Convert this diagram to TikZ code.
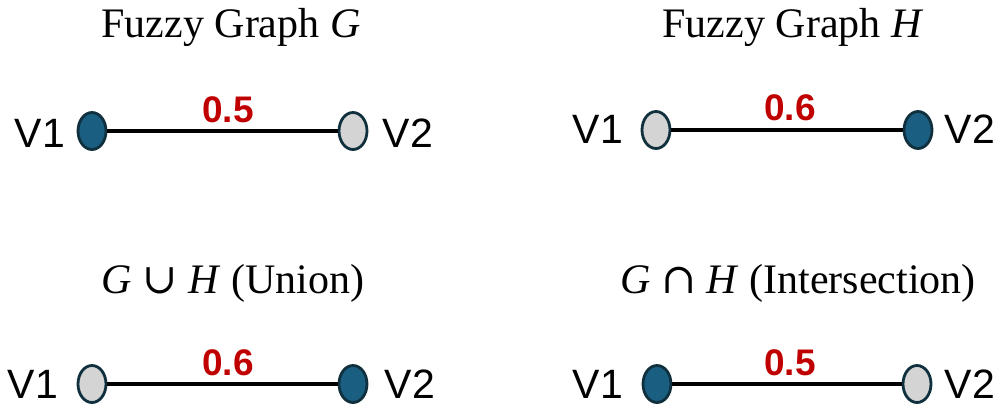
\documentclass[tikz,border=0pt]{standalone}
\usepackage{fontspec}
\setmainfont{Liberation Serif}
\newfontfamily\arialf{Liberation Sans}
\newfontfamily\symf{DejaVu Serif}
\usetikzlibrary{shapes.geometric}
\definecolor{vdark}{HTML}{1A5F82}
\definecolor{vlight}{HTML}{D4D4D4}
\definecolor{vline}{HTML}{10303E}
\definecolor{wred}{HTML}{C00000}
\tikzset{
  vtx/.style={ellipse, draw=vline, line width=2.8pt, minimum width=28pt, minimum height=37pt, inner sep=0pt},
  vd/.style={vtx, fill=vdark},
  vl/.style={vtx, fill=vlight},
  vlab/.style={font=\arialf\fontsize{41}{41}\selectfont, inner sep=0pt},
  wlab/.style={font=\arialf\bfseries\fontsize{37}{37}\selectfont, text=wred, inner sep=0pt},
  ttl/.style={font=\fontsize{42}{48}\selectfont, inner sep=0pt},
  edge/.style={line width=4.4pt, black}
}
\begin{document}
\begin{tikzpicture}[x=1pt,y=-1pt]
\useasboundingbox (0,0) rectangle (1004,405);
% Graph G
\node[ttl] (tG) at (231,27) {Fuzzy Graph \textit{G}};
\node[vd] (g1) at (92,131) {};
\node[vl] (g2) at (353,131) {};
\draw[edge] (g1) -- (g2);
\node[wlab] (wg) at (228,110) {0.5};
\node[vlab] (g1l) at (40,133) {V1};
\node[vlab] (g2l) at (408,133) {V2};
% Graph H
\node[ttl] (tH) at (793,27) {Fuzzy Graph \textit{H}};
\node[vl] (h1) at (656,130) {};
\node[vd] (h2) at (918,130) {};
\draw[edge] (h1) -- (h2);
\node[wlab] (wh) at (790,108) {0.6};
\node[vlab] (h1l) at (598,129) {V1};
\node[vlab] (h2l) at (970,129) {V2};
% Union
\node[ttl] (tU) at (233,283) {\textit{G} {\symf ∪} \textit{H} (Union)};
\node[vl] (u1) at (92,384) {};
\node[vd] (u2) at (353,384) {};
\draw[edge] (u1) -- (u2);
\node[wlab] (wu) at (228,363) {0.6};
\node[vlab] (u1l) at (33,384) {V1};
\node[vlab] (u2l) at (410,384) {V2};
% Intersection
\node[ttl] (tI) at (798,283) {\textit{G} {\symf ∩} \textit{H} (Intersection)};
\node[vd] (i1) at (657,384) {};
\node[vl] (i2) at (917,384) {};
\draw[edge] (i1) -- (i2);
\node[wlab] (wi) at (790,363) {0.5};
\node[vlab] (i1l) at (598,384) {V1};
\node[vlab] (i2l) at (970,384) {V2};
\end{tikzpicture}
\end{document}
